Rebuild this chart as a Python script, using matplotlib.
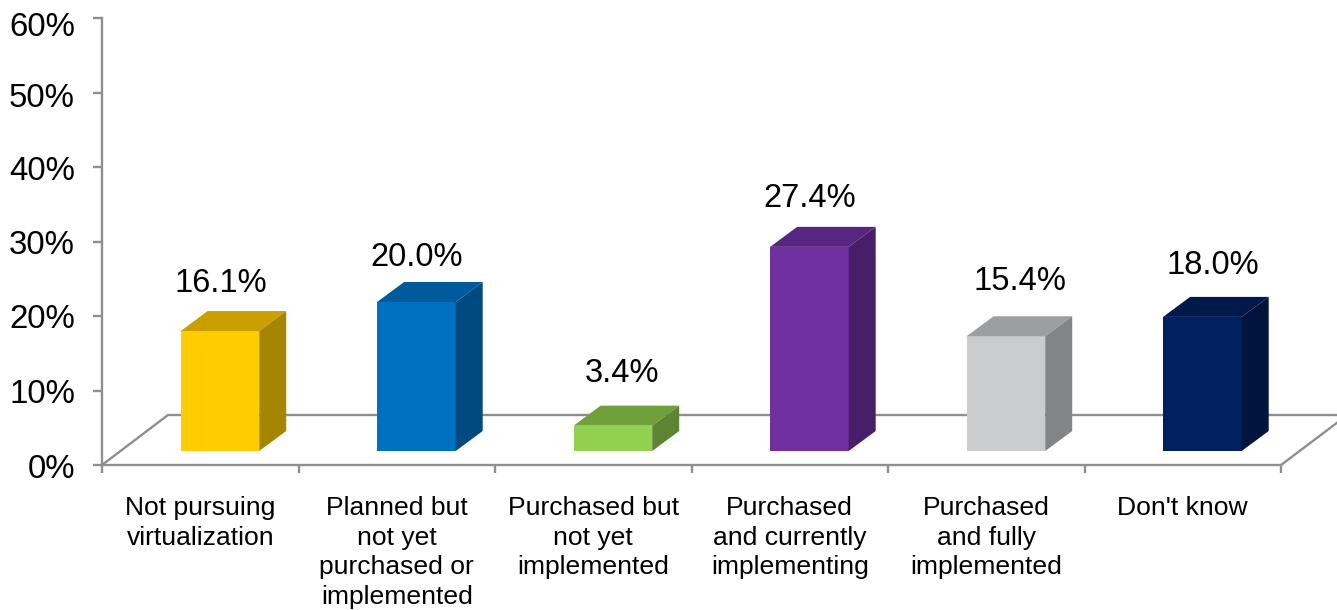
import matplotlib
matplotlib.use("Agg")
import matplotlib.pyplot as plt
from matplotlib.patches import Polygon

plt.rcParams['font.family'] = ['Liberation Sans', 'DejaVu Sans']

categories = ["Not pursuing\nvirtualization", "Planned but\nnot yet\npurchased or\nimplemented",
              "Purchased but\nnot yet\nimplemented", "Purchased\nand currently\nimplementing",
              "Purchased\nand fully\nimplemented", "Don't know"]
values = [16.1, 20.0, 3.4, 27.4, 15.4, 18.0]
labels = ["16.1%", "20.0%", "3.4%", "27.4%", "15.4%", "18.0%"]
yticks = [0, 10, 20, 30, 40, 50, 60]

front = ["#FFCC00", "#0070C0", "#92D050", "#7030A0", "#CBCCCE", "#002060"]
top = ["#C9A000", "#005A9C", "#6FA03C", "#582580", "#9D9EA0", "#00194C"]
side = ["#A68500", "#004A80", "#5C8433", "#481E69", "#838486", "#00143D"]

# hand-placed label offsets from each bar's front-face centre and top, in pixels
label_dx = [1, 0, 9, 0, 14, 10]
label_dy = [48, 45, 52, 48, 55, 51]
ytick_shift = [4, 4, 4, 4, 5, 6, 9]

W, H = 1337, 610
fig = plt.figure(figsize=(W / 100, H / 100), dpi=100, facecolor="white")
ax = fig.add_axes([102 / W, 1 - 465 / H, (1281 - 102) / W, (465 - 18) / H])
n = len(values)
ax.set_xlim(0, n)
ax.set_ylim(0, 60)
ppx = n / (1281 - 102)          # data units per pixel, x
ppy = 60 / (465 - 18)           # data units per pixel, y

line = "#8F8F8F"
lw = 1.7
for s in ("top", "right"):
    ax.spines[s].set_visible(False)
for s in ("left", "bottom"):
    ax.spines[s].set_color(line)
    ax.spines[s].set_linewidth(lw)

# floor
fdx, fdy = 66 * ppx, 50 * ppy
ax.plot([0, fdx, n + fdx], [0, fdy, fdy], color=line, lw=lw, clip_on=False, zorder=1, solid_joinstyle="miter")
ax.plot([n, n + 57 * ppx], [0, 43 * ppy], color=line, lw=lw, clip_on=False, zorder=1)

# 3-D bars
base = 14 * ppy
bw = 0.4
dx, dy = 27 * ppx, 20 * ppy
for i, v in enumerate(values):
    x0 = i + 0.4
    x1 = x0 + bw
    y0, y1 = base, base + v
    ax.bar(x0, v, width=bw, bottom=base, align="edge", color=front[i], lw=0, zorder=3)
    ax.add_patch(Polygon([(x0, y1), (x1, y1), (x1 + dx, y1 + dy), (x0 + dx, y1 + dy)], closed=True,
                         facecolor=top[i], edgecolor="none", zorder=3, clip_on=False))
    ax.add_patch(Polygon([(x1, y0), (x1 + dx, y0 + dy), (x1 + dx, y1 + dy), (x1, y1)], closed=True,
                         facecolor=side[i], edgecolor="none", zorder=3, clip_on=False))
    ax.text(x0 + bw / 2 + label_dx[i] * ppx, y1 + label_dy[i] * ppy, labels[i], ha="center", va="center",
            fontsize=23.5, color="black", zorder=4)

ax.set_yticks(yticks)
ax.set_yticklabels([""] * len(yticks))
for t, s in zip(yticks, ytick_shift):
    ax.text(-27 * ppx, t - s * ppy, f"{t}%", ha="right", va="center", fontsize=23.8, clip_on=False)
ax.set_xticks(range(n + 1))
ax.set_xticklabels([""] * (n + 1))
ax.tick_params(axis="y", length=6.5, width=lw, color=line, direction="out")
ax.tick_params(axis="x", length=5.5, width=lw, color=line)
for i, c in enumerate(categories):
    ax.text(i + 0.5, -4.2, c, ha="center", va="top", fontsize=19.05, linespacing=1.29, clip_on=False)

fig.savefig("out.png", dpi=100)
